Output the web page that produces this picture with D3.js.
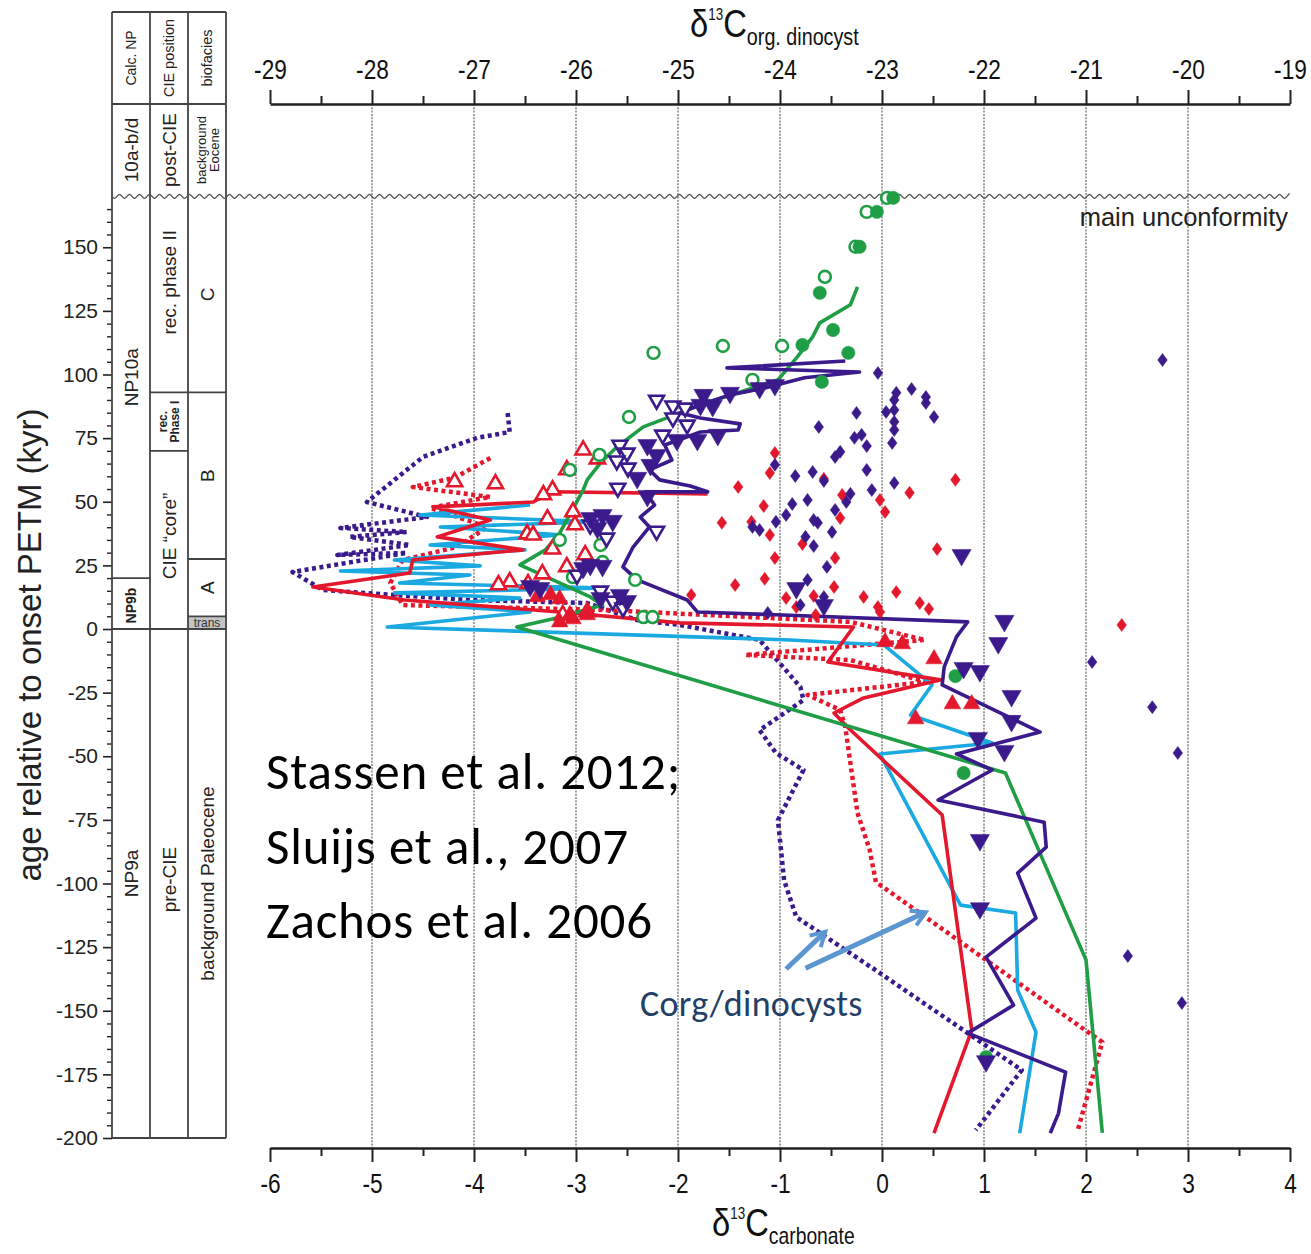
<!DOCTYPE html>
<html><head><meta charset="utf-8">
<script src="https://cdn.jsdelivr.net/npm/d3@7"></script>
<style>
body{margin:0;background:#fff;}
svg{display:block;background:#fff;}
</style></head><body>
<svg id="chart" width="1311" height="1254"></svg>
<script>
// ---------------- data ----------------
const carbTicks = d3.range(-6, 4.01, 1);
const orgTicks = d3.range(-29, -18.99, 1);
const ageTicks = d3.range(-200, 151, 25);
const unconformityAge = 170;

// stratigraphic columns: [label, base age, top age]
const calcNP = [["NP9a", -200, 0], ["NP9b", 0, 20], ["NP10a", 20, 170]];
const ciePosition = [["pre-CIE", -200, 0], ["CIE \u201ccore\u201d", 0, 70], ["rec. Phase I", 70, 93], ["rec. phase II", 93, 170]];
const biofacies = [["background Paleocene", -200, 0], ["trans", 0, 5], ["A", 5, 27.5], ["B", 27.5, 93], ["C", 93, 170]];

// carbonate records [d13C, age kyr]
const greenLine = [[-0.24,134.4],[-0.31,127.4],[-0.61,120.3],[-0.68,114.8],[-0.83,106.9],[-1.02,97.9],[-1.78,88.1],[-1.98,84.9],[-2.34,79.4],[-2.60,71.5],[-2.76,65.3],[-2.89,58.6],[-2.93,54.6],[-3.16,37.7],[-3.30,31.1],[-3.55,25.2],[-2.86,12.6],[-2.74,9.4],[-3.19,4.3],[-3.58,0.8],[1.21,-56.6],[2.0,-130],[2.16,-198]];
const purpleLine = [[-0.36,105.3],[-1.52,102.6],[-0.22,101.0],[-0.76,98.7],[-1.15,94.7],[-1.49,92.0],[-1.78,88.1],[-1.98,84.9],[-1.78,82.9],[-1.39,80.6],[-1.41,78.2],[-1.78,77.4],[-2.13,72.3],[-2.06,66.4],[-2.28,62.5],[-2.18,58.6],[-1.88,56.2],[-1.71,53.9],[-2.32,53.9],[-2.23,48.7],[-2.37,44.0],[-2.28,40.1],[-2.44,32.2],[-2.54,24.4],[-2.40,19.3],[-1.91,11.4],[-1.81,6.7],[0.84,2.8],[0.73,-3.1],[0.61,-14.9],[0.59,-22.0],[1.55,-40.5],[0.73,-49.1],[1.08,-55.4],[0.55,-67.2],[1.59,-75.9],[1.61,-85.7],[1.33,-95.9],[1.51,-113.6],[1.02,-128.9],[1.29,-147.8],[0.84,-158.8],[1.80,-174.1],[1.73,-190.3],[1.65,-198.1]];
const cyanLine = [[-3.45,48.7],[-4.53,44.8],[-2.81,42.1],[-4.33,40.1],[-3.16,37.0],[-4.43,33.0],[-3.50,31.1],[-4.78,27.1],[-3.94,24.8],[-5.31,22.8],[-4.04,21.2],[-4.73,18.1],[-2.72,16.1],[-4.78,14.2],[-3.55,12.2],[-4.43,9.4],[-3.45,6.7],[-4.85,0.8],[-0.90,-4.3],[0.02,-6.3],[0.49,-22.0],[0.28,-33.8],[1.08,-44.8],[-0.02,-49.1],[0.77,-108.5],[1.31,-111.6],[1.33,-141.9],[1.51,-158.4],[1.35,-198.1]];
const redLine = [[-1.71,53.1],[-3.23,53.9],[-3.42,49.9],[-4.40,48.0],[-3.84,42.8],[-4.36,36.2],[-3.52,31.1],[-4.60,27.1],[-4.63,22.0],[-5.58,16.5],[-4.68,11.4],[-3.16,6.7],[-1.98,2.4],[-0.28,0.8],[-0.53,-13.0],[0.57,-20.0],[-0.18,-27.1],[-0.47,-33.0],[-0.33,-38.9],[0.59,-73.1],[0.88,-157.6],[0.51,-198.1]];

// organic / dinocyst records [d13C org, age kyr]
const redDotted = [[-26.84,67.2],[-27.19,59.4],[-27.60,55.8],[-26.84,51.9],[-27.43,47.6],[-26.87,40.1],[-27.17,32.2],[-27.70,27.1],[-27.82,18.1],[-27.70,9.4],[-25.74,7.5],[-23.31,2.8],[-22.58,-4.3],[-24.34,-10.2],[-23.31,-12.2],[-22.57,-20.8],[-23.73,-25.9],[-23.41,-31.8],[-23.36,-38.5],[-23.24,-72.3],[-23.12,-86.9],[-23.06,-99.4],[-20.98,-158.4],[-20.84,-162.3],[-21.08,-196.9]];
const purpleDotted = [[-26.67,84.9],[-26.65,77.4],[-26.97,75.1],[-27.50,67.6],[-28.05,49.9],[-27.46,44.0],[-28.31,39.7],[-27.66,38.1],[-28.22,36.2],[-27.63,33.0],[-28.34,29.1],[-27.66,29.9],[-28.78,22.4],[-28.48,15.3],[-27.04,11.4],[-25.89,10.2],[-25.40,3.5],[-24.98,1.6],[-24.20,-4.3],[-23.80,-22.8],[-23.77,-27.9],[-24.20,-39.7],[-24.04,-48.7],[-23.77,-55.4],[-24.02,-75.1],[-23.96,-98.7],[-23.84,-113.2],[-23.02,-135.2],[-22.16,-158.8],[-21.63,-173.3],[-22.08,-196.9]];

// point records [d13C carbonate, age kyr]
const greenFilled = [[0.11,169.4],[-0.05,163.9],[-0.22,150.2],[-0.61,132.1],[-0.48,117.5],[-0.78,111.6],[-0.33,108.5],[-0.59,97.1],[0.72,-18.5],[0.80,-56.6],[1.02,-168.2]];
const greenOpen = [[0.05,169.4],[-0.15,163.9],[-0.26,150.2],[-0.56,138.4],[-0.98,111.2],[-1.56,111.2],[-2.24,108.5],[-1.27,97.9],[-2.48,83.3],[-2.77,68.4],[-3.06,62.5],[-3.16,35.0],[-2.76,33.0],[-2.74,26.3],[-3.03,20.4],[-2.42,19.3],[-2.34,4.7],[-2.25,4.7]];
const purpleFilledTri = [[-1.05,95.1],[-1.20,93.9],[-1.49,92.0],[-1.75,91.2],[-1.66,86.9],[-1.78,87.3],[-1.61,75.5],[-1.81,73.5],[-2.01,73.5],[-2.21,67.6],[-2.30,71.5],[-2.27,63.7],[-2.40,58.6],[-2.30,51.5],[-2.74,44.0],[-2.86,42.8],[-2.64,41.7],[-2.79,38.9],[-2.86,24.4],[-2.74,24.0],[-2.93,23.2],[-3.45,16.1],[-3.35,15.3],[-2.57,12.6],[-2.50,10.2],[-2.76,11.4],[-0.84,15.3],[-0.57,8.6],[0.78,28.3],[1.20,2.4],[1.14,-6.3],[0.80,-16.1],[0.96,-17.3],[1.27,-27.1],[1.27,-36.9],[0.94,-43.6],[1.20,-48.7],[0.96,-83.7],[0.96,-110.5],[1.02,-170.6]];
const purpleOpenTri = [[-2.21,89.2],[-2.05,86.9],[-1.93,86.1],[-2.05,82.2],[-1.91,79.4],[-2.15,75.5],[-2.57,71.5],[-2.50,68.4],[-2.60,65.3],[-2.49,62.5],[-2.59,54.6],[-2.21,37.7],[-2.86,40.1],[-2.70,35.0],[-2.99,20.4],[-2.76,14.2],[-2.64,10.2],[-2.54,7.5]];
const purpleDiamonds = [[2.75,105.7],[-0.04,100.6],[0.29,94.3],[0.14,92.8],[0.43,91.2],[0.43,88.8],[0.12,90.0],[0.04,85.3],[0.12,86.1],[-0.25,84.9],[0.51,83.3],[0.12,81.4],[0.12,78.2],[-0.62,79.4],[-0.20,76.3],[-0.27,75.1],[-0.15,71.9],[0.10,73.1],[-0.41,69.6],[-0.46,67.6],[-0.15,62.5],[0.12,57.4],[-0.10,54.6],[-0.31,53.1],[-1.05,64.5],[-0.85,60.1],[-0.68,61.7],[-0.57,58.2],[-0.73,50.7],[-0.88,49.1],[-0.94,44.8],[-1.04,42.1],[-0.67,42.8],[-0.63,41.7],[-0.46,46.8],[-0.35,49.9],[-0.49,38.1],[-1.27,40.1],[-1.20,38.9],[-0.75,36.2],[-0.67,32.6],[-0.54,24.4],[-0.73,19.3],[-0.57,12.6],[-0.80,9.4],[-1.12,6.3],[2.06,-13.0],[2.65,-30.7],[2.90,-48.7],[2.41,-128.5],[2.94,-147.0]];
const redDiamonds = [[-1.05,69.2],[-1.10,61.3],[-1.41,55.8],[-1.16,48.3],[-1.57,41.7],[-1.28,42.1],[-1.10,36.9],[-1.05,27.9],[-0.78,33.4],[-0.57,59.0],[-0.39,52.7],[-0.41,43.6],[-0.02,50.7],[0.03,46.0],[0.27,53.5],[0.72,58.6],[0.54,31.4],[-0.46,27.9],[-1.44,17.3],[-1.15,19.7],[-0.47,16.5],[-1.87,13.4],[-0.94,12.2],[-0.84,8.6],[-0.67,13.0],[-0.65,5.5],[-0.18,12.6],[-0.04,8.6],[-0.02,6.7],[0.14,14.5],[0.37,10.2],[0.46,7.9],[2.35,1.6]];
const redOpenTri = [[-4.19,58.6],[-3.79,57.8],[-2.93,71.1],[-2.79,67.6],[-3.09,63.3],[-3.23,55.4],[-3.32,53.5],[-3.28,44.0],[-3.03,46.8],[-3.01,41.7],[-3.48,38.1],[-3.42,37.7],[-3.23,32.2],[-2.91,29.9],[-3.09,25.2],[-3.33,22.4],[-3.65,19.3],[-3.76,18.1],[-3.47,18.5],[-2.89,7.5],[-3.13,6.3]];
const redFilledTri = [[-3.16,3.5],[-3.03,4.7],[-2.89,6.3],[-3.38,13.4],[-3.25,14.2],[-3.16,12.6],[-3.06,6.3],[0.51,-11.0],[0.20,-5.1],[0.03,-4.3],[0.69,-28.7],[0.88,-28.7],[0.33,-34.6]];

// annotation arrows [from, to] in carbonate / age units
const dinoArrows = [[[-0.94,-133.6],[-0.57,-119.5]], [[-0.75,-133.3],[0.41,-111.6]]];
const citations = ["Stassen et al. 2012;", "Sluijs et al., 2007", "Zachos et al. 2006"];

// ---------------- layout ----------------
const svg = d3.select("#chart");
const plotL = 270, plotR = 1290, axisTopY = 104, axisBotY = 1148;
const colX = [112, 150, 188, 226];
const headTop = 12, headBot = 104;
const SANS = '"Liberation Sans",Arial,sans-serif';
const CAL = 'Carlito,Lato,"Open Sans",sans-serif';
const NARROW_X = 0.84;   // horizontal squeeze for the condensed axis lettering

const C = {green:"#1f9e45", purple:"#3b1a8c", red:"#e3182d", cyan:"#1ba9e1", grid:"#555", ink:"#222"};

const xCarb = d3.scaleLinear().domain([-6, 4]).range([plotL, plotR]);
const xOrg = d3.scaleLinear().domain([-29, -19]).range([plotL, plotR]);
const y = d3.scaleLinear().domain([0, -200]).range([629, 1138]);
const yUnc = y(unconformityAge);

// ---------------- grid ----------------
svg.append("g").selectAll("line").data(carbTicks.slice(1, -1)).join("line")
  .attr("x1", d => xCarb(d)).attr("x2", d => xCarb(d))
  .attr("y1", axisTopY).attr("y2", axisBotY)
  .attr("stroke", C.grid).attr("stroke-width", 1.1).attr("stroke-dasharray", "2,1.3");

// ---------------- axes ----------------
function styleAxis(g, fs) {
  g.select(".domain").attr("stroke", C.ink).attr("stroke-width", 2.4);
  g.selectAll(".tick line").attr("stroke", C.ink).attr("stroke-width", 2);
  g.selectAll("text").attr("font-family", SANS).attr("font-size", fs).attr("fill", "#111")
    .attr("transform", `scale(${NARROW_X},1)`);
}
const fmt = d => String(d);
const gTop = svg.append("g").attr("transform", `translate(0,${axisTopY})`)
  .call(d3.axisTop(xOrg).tickValues(orgTicks).tickSize(14).tickSizeOuter(0).tickPadding(11).tickFormat(fmt));
styleAxis(gTop, 27);
const gTopMinor = svg.append("g").attr("transform", `translate(0,${axisTopY})`)
  .call(d3.axisTop(xOrg).tickValues(d3.range(-28.5, -19, 1)).tickSize(8).tickFormat(""));
gTopMinor.select(".domain").remove();
gTopMinor.selectAll(".tick line").attr("stroke", C.ink).attr("stroke-width", 2);

const gBot = svg.append("g").attr("transform", `translate(0,${axisBotY})`)
  .call(d3.axisBottom(xCarb).tickValues(carbTicks).tickSize(14).tickSizeOuter(0).tickPadding(12).tickFormat(fmt));
styleAxis(gBot, 27);
const gBotMinor = svg.append("g").attr("transform", `translate(0,${axisBotY})`)
  .call(d3.axisBottom(xCarb).tickValues(d3.range(-5.5, 4, 1)).tickSize(8).tickFormat(""));
gBotMinor.select(".domain").remove();
gBotMinor.selectAll(".tick line").attr("stroke", C.ink).attr("stroke-width", 2);

const gY = svg.append("g").attr("transform", `translate(${colX[0]},0)`)
  .call(d3.axisLeft(y).tickValues(ageTicks).tickSize(9).tickPadding(5).tickFormat(fmt));
gY.select(".domain").remove();
gY.selectAll(".tick line").attr("stroke", C.ink).attr("stroke-width", 1.6);
gY.selectAll("text").attr("font-family", SANS).attr("font-size", 21).attr("fill", "#222");
const gYMinor = svg.append("g").attr("transform", `translate(${colX[0]},0)`)
  .call(d3.axisLeft(y).tickValues(d3.range(-200, 166, 5).filter(v => v % 25 !== 0)).tickSize(5).tickFormat(""));
gYMinor.select(".domain").remove();
gYMinor.selectAll(".tick line").attr("stroke", C.ink).attr("stroke-width", 1.4);

// axis titles
function deltaTitle(x, yb, sub, subSize) {
  const t = svg.append("text").attr("transform", `translate(${x},${yb}) scale(${NARROW_X},1)`)
    .attr("font-family", SANS).attr("fill", "#111");
  t.append("tspan").attr("font-size", 39).text("\u03b4");
  t.append("tspan").attr("font-size", 16).attr("dy", -17).text("13");
  t.append("tspan").attr("font-size", 39).attr("dy", 17).text("C");
  t.append("tspan").attr("font-size", subSize).attr("dy", 8).text(sub);
}
deltaTitle(690, 37, "org. dinocyst", 23.5);
deltaTitle(712, 1236, "carbonate", 23);

svg.append("text").attr("transform", `translate(41,645) rotate(-90)`)
  .attr("text-anchor", "middle").attr("font-family", SANS).attr("font-size", 33).attr("fill", "#222")
  .text("age relative to onset PETM (kyr)");

// ---------------- stratigraphic column ----------------
const strat = svg.append("g").attr("stroke", "#444").attr("fill", "none");
strat.append("rect").attr("x", colX[2]).attr("y", y(5)).attr("width", colX[3] - colX[2]).attr("height", y(0) - y(5))
  .attr("fill", "#c4c4c4").attr("stroke", "none");
colX.forEach(x => strat.append("line").attr("x1", x).attr("x2", x).attr("y1", headTop).attr("y2", y(-200)).attr("stroke-width", 1.8));
[headTop, headBot, y(0), y(-200)].forEach(v => strat.append("line").attr("x1", colX[0]).attr("x2", colX[3]).attr("y1", v).attr("y2", v).attr("stroke-width", 1.8));
const zoneSets = [calcNP, ciePosition, biofacies];
zoneSets.forEach((zones, i) => zones.forEach(z => {
  if (z[2] < unconformityAge) strat.append("line").attr("x1", colX[i]).attr("x2", colX[i + 1])
    .attr("y1", y(z[2])).attr("y2", y(z[2])).attr("stroke-width", 1.8);
}));

function vText(cx, cy, txt, fs, opts = {}) {
  const t = svg.append("text").attr("transform", `translate(${cx},${cy}) rotate(-90)`)
    .attr("text-anchor", "middle").attr("dominant-baseline", "central")
    .attr("font-family", SANS).attr("font-size", fs).attr("fill", "#222")
    .attr("font-weight", opts.bold ? "bold" : "normal");
  if (Array.isArray(txt)) {
    txt.forEach((s, k) => t.append("tspan").attr("x", 0).attr("dy", k === 0 ? -(txt.length - 1) * fs * 0.5 + "px" : fs + "px").text(s));
  } else t.text(txt);
  return t;
}
const colMid = i => (colX[i] + colX[i + 1]) / 2;
vText(colMid(0), 58, "Calc. NP", 14);
vText(colMid(1), 58, "CIE position", 14.5);
vText(colMid(2), 58, "biofacies", 14.5);
vText(colMid(0), 150, "10a-b/d", 19);
vText(colMid(1), 150, "post-CIE", 19);
vText(colMid(2), 150, ["background", "Eocene"], 13);

calcNP.forEach(z => {
  const bold = z[0] === "NP9b";
  vText(colMid(0), y((z[1] + z[2]) / 2) + (bold ? 2 : -10), z[0], bold ? 14 : 19, {bold});
});
ciePosition.forEach(z => {
  if (z[0] === "rec. Phase I") vText(colMid(1), y((z[1] + z[2]) / 2), ["rec.", "Phase I"], 12, {bold: true});
  else vText(colMid(1), y((z[1] + z[2]) / 2) + (z[0].startsWith("rec") ? -12 : -4), z[0], 19);
});
biofacies.forEach(z => {
  if (z[0] === "trans") {
    svg.append("text").attr("x", colMid(2)).attr("y", (y(0) + y(5)) / 2).attr("text-anchor", "middle")
      .attr("dominant-baseline", "central").attr("font-family", SANS).attr("font-size", 12).attr("fill", "#333").text("trans");
  } else vText(colMid(2), y((z[1] + z[2]) / 2), z[0], 19);
});

// unconformity wave
const wave = d3.range(colX[0], plotR + 0.1, 2.5).map((x, k) => [x, yUnc + 3 * Math.sin(k * Math.PI / 2)]);
svg.append("path").attr("d", d3.line().curve(d3.curveBasis)(wave)).attr("fill", "none").attr("stroke", "#555").attr("stroke-width", 1.4);
svg.append("text").attr("x", 1288).attr("y", yUnc + 30).attr("text-anchor", "end")
  .attr("font-family", SANS).attr("font-size", 25.5).attr("fill", "#222").text("main unconformity");

// ---------------- series ----------------
const lineCarb = d3.line().x(d => xCarb(d[0])).y(d => y(d[1]));
const lineOrg = d3.line().x(d => xOrg(d[0])).y(d => y(d[1]));
const series = svg.append("g").attr("fill", "none").attr("stroke-linejoin", "round");
series.append("path").attr("d", lineOrg(purpleDotted)).attr("stroke", C.purple).attr("stroke-width", 4.5).attr("stroke-dasharray", "4,3.5");
series.append("path").attr("d", lineOrg(redDotted)).attr("stroke", C.red).attr("stroke-width", 4.5).attr("stroke-dasharray", "4,3.5");
series.append("path").attr("d", lineCarb(cyanLine)).attr("stroke", C.cyan).attr("stroke-width", 3.6);
series.append("path").attr("d", lineCarb(redLine)).attr("stroke", C.red).attr("stroke-width", 3.6);
series.append("path").attr("d", lineCarb(greenLine)).attr("stroke", C.green).attr("stroke-width", 3.6);
series.append("path").attr("d", lineCarb(purpleLine)).attr("stroke", C.purple).attr("stroke-width", 3.6);

const tri = d3.symbol(d3.symbolTriangle);
const diamondPath = "M0,-6.5L4.8,0L0,6.5L-4.8,0Z";
function pts(data, kind, color, filled) {
  const g = svg.append("g");
  const sel = g.selectAll("path").data(data).join("path")
    .attr("fill", filled ? color : "#fff").attr("stroke", color)
    .attr("stroke-width", filled ? 0.5 : 2.6);
  if (kind === "down") sel.attr("d", tri.size(filled ? 160 : 95)()).attr("transform", d => `translate(${xCarb(d[0])},${y(d[1]) - 2}) rotate(180)`);
  if (kind === "up") sel.attr("d", tri.size(filled ? 120 : 100)()).attr("transform", d => `translate(${xCarb(d[0])},${y(d[1]) + 2})`);
  if (kind === "circle") sel.attr("d", d3.symbol(d3.symbolCircle, filled ? 140 : 110)()).attr("transform", d => `translate(${xCarb(d[0])},${y(d[1])})`);
  if (kind === "diamond") sel.attr("d", diamondPath).attr("transform", d => `translate(${xCarb(d[0])},${y(d[1])})`);
}
pts(redDiamonds, "diamond", C.red, true);
pts(purpleDiamonds, "diamond", C.purple, true);
pts(redOpenTri, "up", C.red, false);
pts(redFilledTri, "up", C.red, true);
pts(greenOpen, "circle", C.green, false);
pts(greenFilled, "circle", C.green, true);
pts(purpleOpenTri, "down", C.purple, false);
pts(purpleFilledTri, "down", C.purple, true);

// ---------------- annotations ----------------
svg.append("defs").append("marker").attr("id", "ah").attr("viewBox", "0 0 10 10").attr("refX", 7).attr("refY", 5)
  .attr("markerWidth", 4).attr("markerHeight", 4).attr("orient", "auto")
  .append("path").attr("d", "M1,1L8,5L1,9").attr("fill", "none").attr("stroke", "#5b96d0").attr("stroke-width", 2);
svg.append("g").selectAll("line").data(dinoArrows).join("line")
  .attr("x1", d => xCarb(d[0][0])).attr("y1", d => y(d[0][1]))
  .attr("x2", d => xCarb(d[1][0])).attr("y2", d => y(d[1][1]))
  .attr("stroke", "#5b96d0").attr("stroke-width", 5).attr("marker-end", "url(#ah)");
svg.append("text").attr("x", 640).attr("y", 1016).attr("font-family", CAL).attr("font-size", 36)
  .attr("letter-spacing", 0.3).attr("fill", "#233f66").text("Corg/dinocysts");

svg.append("g").selectAll("text").data(citations).join("text")
  .attr("x", 266).attr("y", (d, i) => 789 + i * 74.5)
  .attr("font-family", CAL).attr("font-size", 51).attr("letter-spacing", 0.8).attr("fill", "#000").text(d => d);
</script>
</body></html>
